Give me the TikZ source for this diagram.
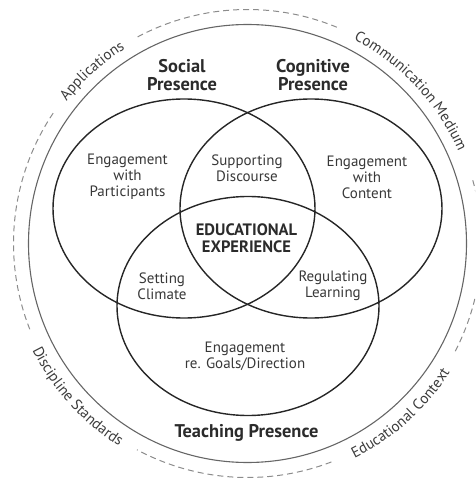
\documentclass[tikz,border=0pt]{standalone}
\usepackage{fontspec}
\setmainfont{PT Sans}
\usetikzlibrary{shapes.geometric,decorations.text}

\definecolor{vennline}{HTML}{262626}
\definecolor{ringline}{HTML}{666666}
\definecolor{dashline}{HTML}{8C8C8C}
\definecolor{headtext}{HTML}{2B2B2B}
\definecolor{labeltext}{HTML}{383838}
\definecolor{ringtext}{HTML}{3C3C3C}

\newcommand\ringfont{\fontsize{15}{16}\selectfont}

\tikzset{
  venn/.style={ellipse, draw=vennline, line width=1.4pt,
    minimum width=262pt, minimum height=219pt, inner sep=0pt, outer sep=0pt},
  heading/.style={font=\bfseries\fontsize{18.4}{18.3}\selectfont, text=headtext, align=center},
  area/.style={font=\fontsize{15}{16}\selectfont, text=labeltext, align=center},
  core/.style={font=\bfseries\fontsize{16.5}{17.5}\selectfont, text=headtext, align=center},
  ring/.style={draw=ringline, line width=1.1pt},
  dashring/.style={draw=dashline, line width=1pt, dash pattern=on 6pt off 4pt},
  arclabel/.style={decorate, decoration={text along path, text align=center, text color=ringtext}}
}

\begin{document}
\begin{tikzpicture}[x=1pt,y=1pt]
  \useasboundingbox (-247.5,-235.5) rectangle (227.5,243.5);

  % outer frame: solid ring and the dashed ring broken by its labels
  \draw[ring] (0,0) circle[radius=219pt];
  \begin{scope}
    \clip (-247.5,-235.5) rectangle (227.5,243.5);
    \draw[dashring] (118:234pt) arc[start angle=118, end angle=67.5, radius=234pt];
    \draw[dashring] (15.7:234pt) arc[start angle=15.7, end angle=-28, radius=234pt];
    \draw[dashring] (-69:234pt) arc[start angle=-69, end angle=-118.2, radius=234pt];
    \draw[dashring] (201.5:234pt) arc[start angle=201.5, end angle=146, radius=234pt];
  \end{scope}

  % labels set along the dashed ring
  \path[arclabel, decoration={text={|\ringfont|Applications}}]
    (170:230pt) arc[start angle=170, end angle=94, radius=230pt];
  \path[arclabel, decoration={text={|\ringfont|Communication Medium}}]
    (95:230pt) arc[start angle=95, end angle=-9, radius=230pt];
  \path[arclabel, decoration={text={|\ringfont|Discipline Standards}}]
    (180:240pt) arc[start angle=180, end angle=264, radius=240pt];
  \path[arclabel, decoration={text={|\ringfont|Educational Context}}]
    (270:240pt) arc[start angle=270, end angle=354, radius=240pt];

  % the three presences
  \node[venn] (social) at (-63.5,35) {};
  \node[venn] (cognitive) at (63.5,35) {};
  \node[venn] (teaching) at (0.5,-62.5) {};

  \node[heading] (socialT) at (-65.5,168.5) {Social\\Presence};
  \node[heading] (cognitiveT) at (65.5,168.5) {Cognitive\\Presence};
  \node[heading] (teachingT) at (-1,-189.5) {Teaching Presence};

  % regions of the diagram
  \node[area] (participants) at (-120,66.5) {Engagement\\with\\Participants};
  \node[area] (content) at (119.5,66.5) {Engagement\\with\\Content};
  \node[area] (discourse) at (-0.5,75) {Supporting\\Discourse};
  \node[area] (climate) at (-85.5,-42.5) {Setting\\Climate};
  \node[area] (learning) at (85.5,-42.5) {Regulating\\Learning};
  \node[area] (goals) at (-2.5,-112.5) {Engagement\\re. Goals/Direction};
  \node[core] (experience) at (-1,5.5) {EDUCATIONAL\\EXPERIENCE};
\end{tikzpicture}
\end{document}
